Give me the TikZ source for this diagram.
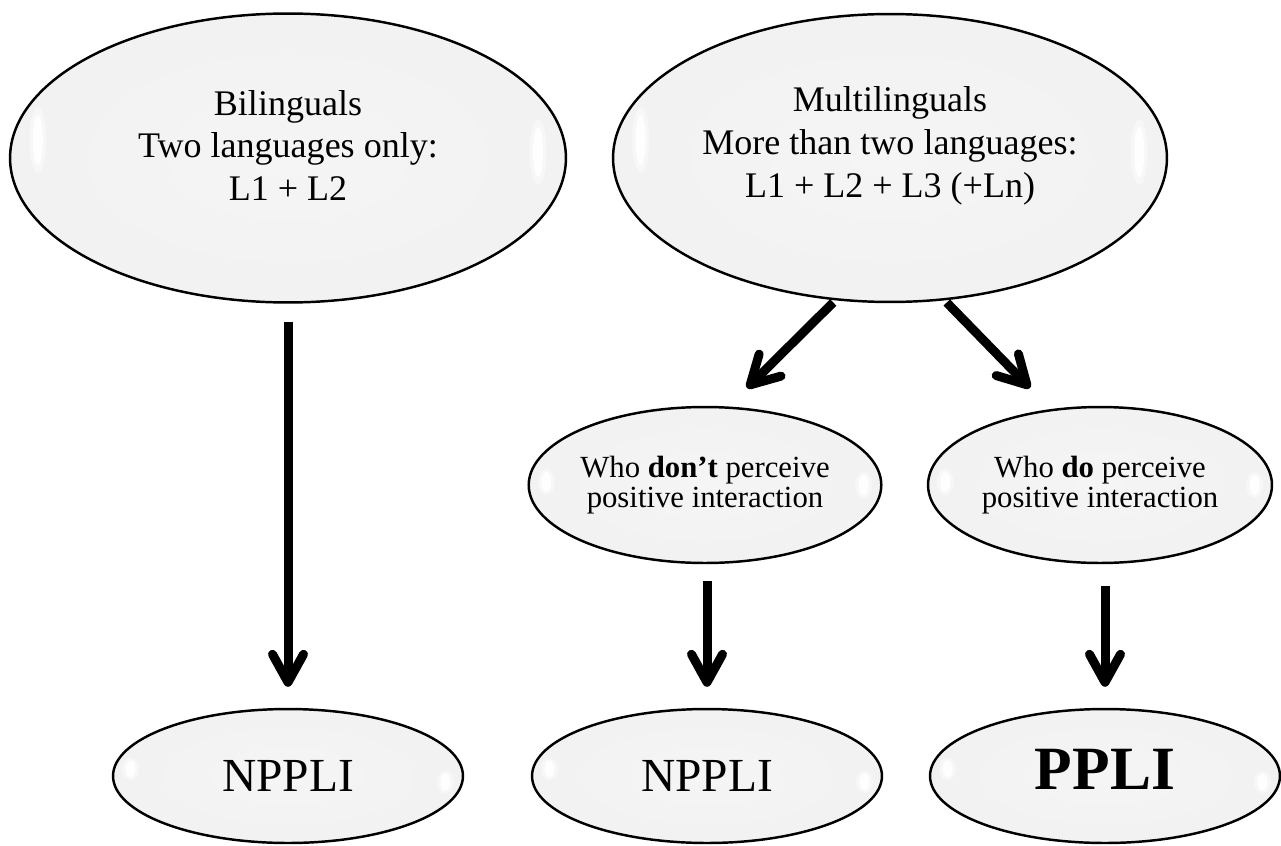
\documentclass[tikz,border=0pt]{standalone}
\usepackage{fontspec}
\setmainfont{Liberation Serif}
\usetikzlibrary{shapes.geometric,arrows.meta,calc}

\definecolor{pearlin}{HTML}{F5F5F5}
\definecolor{pearlsoft}{HTML}{F0F0F0}
\definecolor{pearlmid}{HTML}{DDDDDD}
\definecolor{pearldark}{HTML}{B0B0B0}
\definecolor{pearlout}{HTML}{505050}
\pgfdeclareradialshading{pearl}{\pgfpoint{0bp}{0bp}}{color(0bp)=(pearlin); color(36bp)=(pearlsoft); color(43bp)=(pearlmid); color(47.5bp)=(pearldark); color(50bp)=(pearlout)}

\tikzset{
  bubble/.style n args={3}{ellipse, draw=black, line width=1.4pt, shading=pearl, inner sep=0pt, align=center,
    path picture={
      \fill[white,opacity=.45] ($(path picture bounding box.west)!.05!(path picture bounding box.east)+(0,#2)$) ellipse [x radius=0.17cm, y radius=1.3*#1];
      \fill[white,opacity=.9] ($(path picture bounding box.west)!.05!(path picture bounding box.east)+(0,#2)$) ellipse [x radius=0.1cm, y radius=#1];
      \fill[white,opacity=.45] ($(path picture bounding box.east)!.05!(path picture bounding box.west)+(0,#3)$) ellipse [x radius=0.17cm, y radius=1.3*#1];
      \fill[white,opacity=.9] ($(path picture bounding box.east)!.05!(path picture bounding box.west)+(0,#3)$) ellipse [x radius=0.1cm, y radius=#1];
    }},
  arr/.style={line width=0.18cm, -{Straight Barb[length=0.56cm,width=0.62cm,round]}}
}

\begin{document}
\begin{tikzpicture}[x=0.02cm,y=-0.02cm]
\useasboundingbox (0,0) rectangle (1281,845);

% top row
\node[bubble={0.5cm}{-18}{-6}, minimum width=11.12cm, minimum height=5.78cm, font=\fontsize{20.5}{24.3}\selectfont] (bil) at (288,158) {Bilinguals\\Two languages only:\\L1 + L2\\[-10pt]\mbox{}};
\node[bubble={0.5cm}{-18}{-6}, minimum width=11.08cm, minimum height=5.76cm, font=\fontsize{20.5}{24.3}\selectfont] (multi) at (890,158) {Multilinguals\\More than two languages:\\L1 + L2 + L3 (+Ln)\\[-6pt]\mbox{}};

% middle row
\node[bubble={0.2cm}{-3}{0}, minimum width=6.88cm, minimum height=3.12cm, font=\fontsize{17.5}{17}\selectfont] (dont) at (705,485) {Who \textbf{don’t} perceive\\positive interaction};
\node[bubble={0.2cm}{-3}{0}, minimum width=6.88cm, minimum height=3.12cm, font=\fontsize{17.5}{17}\selectfont] (do) at (1100,485) {Who \textbf{do} perceive\\positive interaction};

% bottom row
\node[bubble={0.17cm}{-7}{6}, minimum width=7cm, minimum height=2.68cm, font=\fontsize{27}{30}\selectfont] (npl1) at (288,776) {NPPLI};
\node[bubble={0.17cm}{-7}{6}, minimum width=7cm, minimum height=2.68cm, font=\fontsize{27}{30}\selectfont] (npl2) at (707,776) {NPPLI};
\node[bubble={0.17cm}{-7}{6}, minimum width=7cm, minimum height=2.68cm, font=\fontsize{35}{38}\selectfont\bfseries, text height=23.7pt, text depth=8pt] (pli) at (1105,776) {PPLI};

% arrows
\coordinate (ltip) at (747,388);
\coordinate (rtip) at (1030,388);
\draw[arr, shorten <=0.36cm, shorten >=0.42cm] (bil) -- (npl1);
\draw[arr, shorten <=0.06cm] (multi.249) -- (ltip);
\draw[arr, shorten <=0.06cm] (multi.291) -- (rtip);
\draw[arr, shorten <=0.34cm, shorten >=0.42cm] (npl2.north |- dont.south) -- (npl2.north);
\draw[arr, shorten <=0.44cm, shorten >=0.42cm] (pli.north |- do.south) -- (pli.north);
\end{tikzpicture}
\end{document}
